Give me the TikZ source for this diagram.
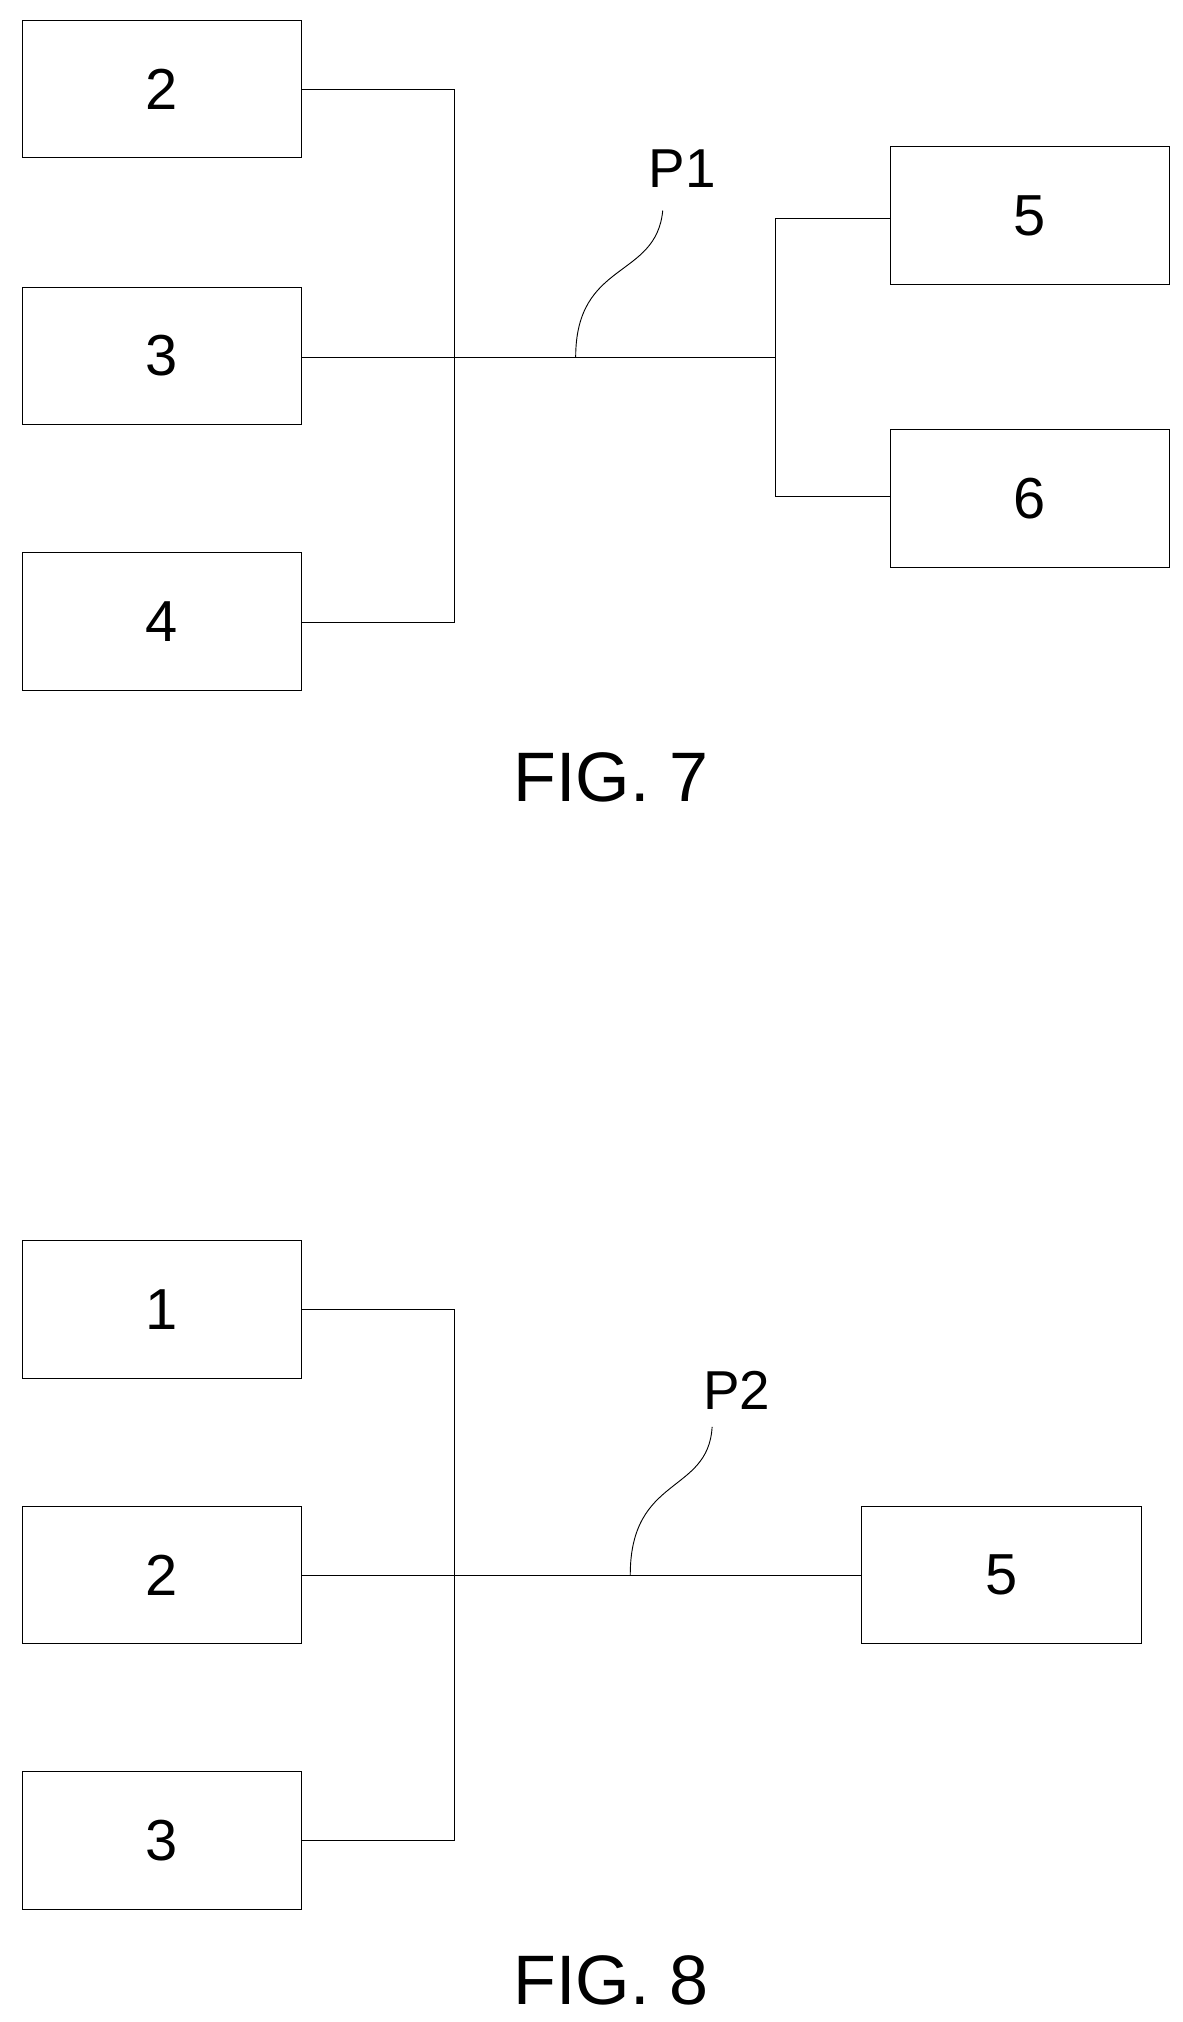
\documentclass[tikz,border=0pt]{standalone}
\usepackage{fontspec}
\setmainfont{Liberation Sans}
\begin{document}
\begin{tikzpicture}[x=0.03cm,y=-0.03cm,
  box/.style={draw,line width=0.6pt,minimum width=6.45cm,minimum height=3.18cm,inner sep=0pt,font=\fontsize{38}{44}\selectfont},
  ln/.style={line width=0.6pt},
  lab/.style={font=\fontsize{36}{42}\selectfont},
  fig/.style={font=\fontsize{46}{52}\selectfont}]
\useasboundingbox (0,0) rectangle (910,1556);
% FIG 7
\node[box] (b2) at (124.5,68.5) {2};
\node[box] (b3) at (124.5,274) {3};
\node[box] (b4) at (124.5,478.5) {4};
\node[box] (b5) at (792.5,166) {5};
\node[box] (b6) at (792.5,383.5) {6};
\coordinate (j2) at (597,275);
\draw[ln] (b2.east |- 0,69) -- (350,69) -- (350,479) -- (b4.east |- 0,479);
\draw[ln] (b3.east |- 0,275) -- (j2);
\draw[ln] (597,168) -- (b5.west |- 0,168);
\draw[ln] (597,168) -- (597,382) -- (b6.west |- 0,382);
\node[lab] (p1) at (525,130) {P1};
\coordinate (t1) at (443,275);
\draw[ln] (t1) .. controls (443,200) and (505,215) .. (510,162);
\node[fig] (f7) at (470,598) {FIG. 7};
% FIG 8
\node[box] (c1) at (124.5,1007.5) {1};
\node[box] (c2) at (124.5,1212) {2};
\node[box] (c3) at (124.5,1416) {3};
\node[box] (c5) at (770.5,1212) {5};
\draw[ln] (c1.east |- 0,1008) -- (350,1008) -- (350,1416) -- (c3.east);
\draw[ln] (c2.east) -- (c5.west);
\node[lab] (p2) at (567,1070) {P2};
\coordinate (t2) at (485,1212);
\draw[ln] (t2) .. controls (485,1135) and (545,1150) .. (548,1098);
\node[fig] (f8) at (470,1524) {FIG. 8};
\end{tikzpicture}
\end{document}
